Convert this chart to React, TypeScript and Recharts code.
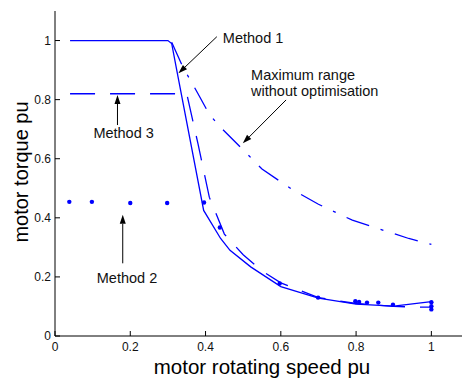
import { ComposedChart, Line, Scatter, XAxis, YAxis } from "recharts";

// motor speed (pu) / torque (pu)
const method1Speed = [0.04, 0.3, 0.31, 0.325, 0.395, 0.44, 0.465, 0.52, 0.6, 0.7, 0.8, 0.9, 1.0];
const method1Torque = [1, 1, 0.99, 0.89, 0.425, 0.33, 0.29, 0.234, 0.167, 0.128, 0.108, 0.101, 0.116];

const method3Speed = [0.04, 0.35, 0.38, 0.41, 0.45, 0.5, 0.55, 0.6, 0.7, 0.8, 0.9, 0.96, 1.0];
const method3Torque = [0.82, 0.82, 0.65, 0.47, 0.345, 0.275, 0.22, 0.18, 0.13, 0.11, 0.1, 0.098, 0.098];

const maxRangeSpeed = [0.31, 0.34, 0.38, 0.41, 0.44, 0.5, 0.55, 0.63, 0.7, 0.79, 0.94, 1.0];
const maxRangeTorque = [0.994, 0.91, 0.82, 0.75, 0.706, 0.63, 0.565, 0.496, 0.446, 0.392, 0.33, 0.31];

const method2Speed = [0.038, 0.098, 0.2, 0.298, 0.396, 0.438, 0.597, 0.699, 0.798, 0.808, 0.829, 0.859, 0.898, 1.0, 1.0, 1.0];
const method2Torque = [0.454, 0.454, 0.45, 0.45, 0.452, 0.367, 0.178, 0.13, 0.118, 0.115, 0.113, 0.113, 0.106, 0.114, 0.101, 0.09];

const speedTicks = [0, 0.2, 0.4, 0.6, 0.8, 1];
const torqueTicks = [0, 0.2, 0.4, 0.6, 0.8, 1];

const zip = (xs: number[], ys: number[]) => xs.map((x, i) => ({ x, y: ys[i] }));

const FONT = "'Liberation Sans', Arial, sans-serif";
const BLUE = "#0000ff";

// plot area (must match margins / axis sizes below)
const PLOT_LEFT = 55;
const PLOT_RIGHT = 469;
const PLOT_TOP = 11;
const PLOT_BOTTOM = 336;
const px = (x: number) => PLOT_LEFT + (x / 1.1) * (PLOT_RIGHT - PLOT_LEFT);
const py = (y: number) => PLOT_BOTTOM - (y / 1.1) * (PLOT_BOTTOM - PLOT_TOP);

const arrows = [
  { from: [0.43, 1.013], to: [0.328, 0.889] },
  { from: [0.614, 0.799], to: [0.499, 0.652] },
  { from: [0.166, 0.714], to: [0.166, 0.816] },
  { from: [0.18, 0.246], to: [0.18, 0.41] },
];

const notes = [
  { x: 0.446, y: 0.992, lines: ["Method 1"] },
  { x: 0.521, y: 0.868, lines: ["Maximum range", "without optimisation"] },
  { x: 0.102, y: 0.669, lines: ["Method 3"] },
  { x: 0.111, y: 0.178, lines: ["Method 2"] },
];

const Arrow = ({ from, to }: { from: number[]; to: number[] }) => {
  const x1 = px(from[0]);
  const y1 = py(from[1]);
  const x2 = px(to[0]);
  const y2 = py(to[1]);
  const ang = Math.atan2(y2 - y1, x2 - x1);
  const len = 9;
  const w = 3;
  const bx = x2 - len * Math.cos(ang);
  const by = y2 - len * Math.sin(ang);
  const nx = -Math.sin(ang) * w;
  const ny = Math.cos(ang) * w;
  return (
    <g>
      <line x1={x1} y1={y1} x2={bx} y2={by} stroke="#000" strokeWidth={1} />
      <polygon points={`${x2},${y2} ${bx + nx},${by + ny} ${bx - nx},${by - ny}`} fill="#000" />
    </g>
  );
};

const Annotations = () => (
  <g>
    {arrows.map((a, i) => (
      <Arrow key={i} from={a.from} to={a.to} />
    ))}
    {notes.map((n, i) =>
      n.lines.map((t, j) => (
        <text key={`${i}-${j}`} x={px(n.x)} y={py(n.y) + j * 16.7} fontSize={14.5} fontFamily={FONT} fill="#111">
          {t}
        </text>
      ))
    )}
    <text x={262} y={374} textAnchor="middle" fontSize={20.5} fontFamily={FONT} fill="#000">
      motor rotating speed pu
    </text>
    <text x={28} y={172} textAnchor="middle" fontSize={20} fontFamily={FONT} fill="#000" transform="rotate(-90 28 172)">
      motor torque pu
    </text>
  </g>
);

export default function App() {
  const tickStyle = { fill: "#111", fontSize: 12, fontFamily: FONT };
  return (
    <div style={{ position: "fixed", left: 0, top: 0, width: 462, height: 380, overflow: "hidden", background: "#fff" }}>
      <ComposedChart width={480} height={380} margin={{ top: 11, right: 11, bottom: 14, left: 0 }}>
        <XAxis
          type="number"
          dataKey="x"
          domain={[0, 1.1]}
          ticks={speedTicks}
          interval={0}
          height={30}
          tickSize={-5}
          tickMargin={11}
          tick={tickStyle}
          stroke="#000"
          allowDataOverflow
        />
        <XAxis
          xAxisId="top"
          orientation="top"
          type="number"
          dataKey="x"
          domain={[0, 1.1]}
          ticks={speedTicks}
          interval={0}
          height={0}
          tickSize={-5}
          tick={false}
          stroke="#000"
        />
        <YAxis
          type="number"
          dataKey="y"
          domain={[0, 1.1]}
          ticks={torqueTicks}
          interval={0}
          width={55}
          tickSize={-5}
          tickMargin={9}
          tick={tickStyle}
          stroke="#000"
          allowDataOverflow
        />
        <Line
          data={zip(maxRangeSpeed, maxRangeTorque)}
          dataKey="y"
          stroke={BLUE}
          strokeWidth={1.3}
          strokeDasharray="24 12 3 12"
          dot={false}
          activeDot={false}
          isAnimationActive={false}
        />
        <Line
          data={zip(method3Speed, method3Torque)}
          dataKey="y"
          stroke={BLUE}
          strokeWidth={1.3}
          strokeDasharray="25 15"
          dot={false}
          activeDot={false}
          isAnimationActive={false}
        />
        <Line
          data={zip(method1Speed, method1Torque)}
          dataKey="y"
          stroke={BLUE}
          strokeWidth={1.3}
          dot={false}
          activeDot={false}
          isAnimationActive={false}
        />
        <Scatter
          data={zip(method2Speed, method2Torque)}
          dataKey="y"
          fill={BLUE}
          shape={(p: any) => <circle cx={p.cx} cy={p.cy} r={2.2} fill={BLUE} />}
          isAnimationActive={false}
        />
        <Annotations />
      </ComposedChart>
    </div>
  );
}
